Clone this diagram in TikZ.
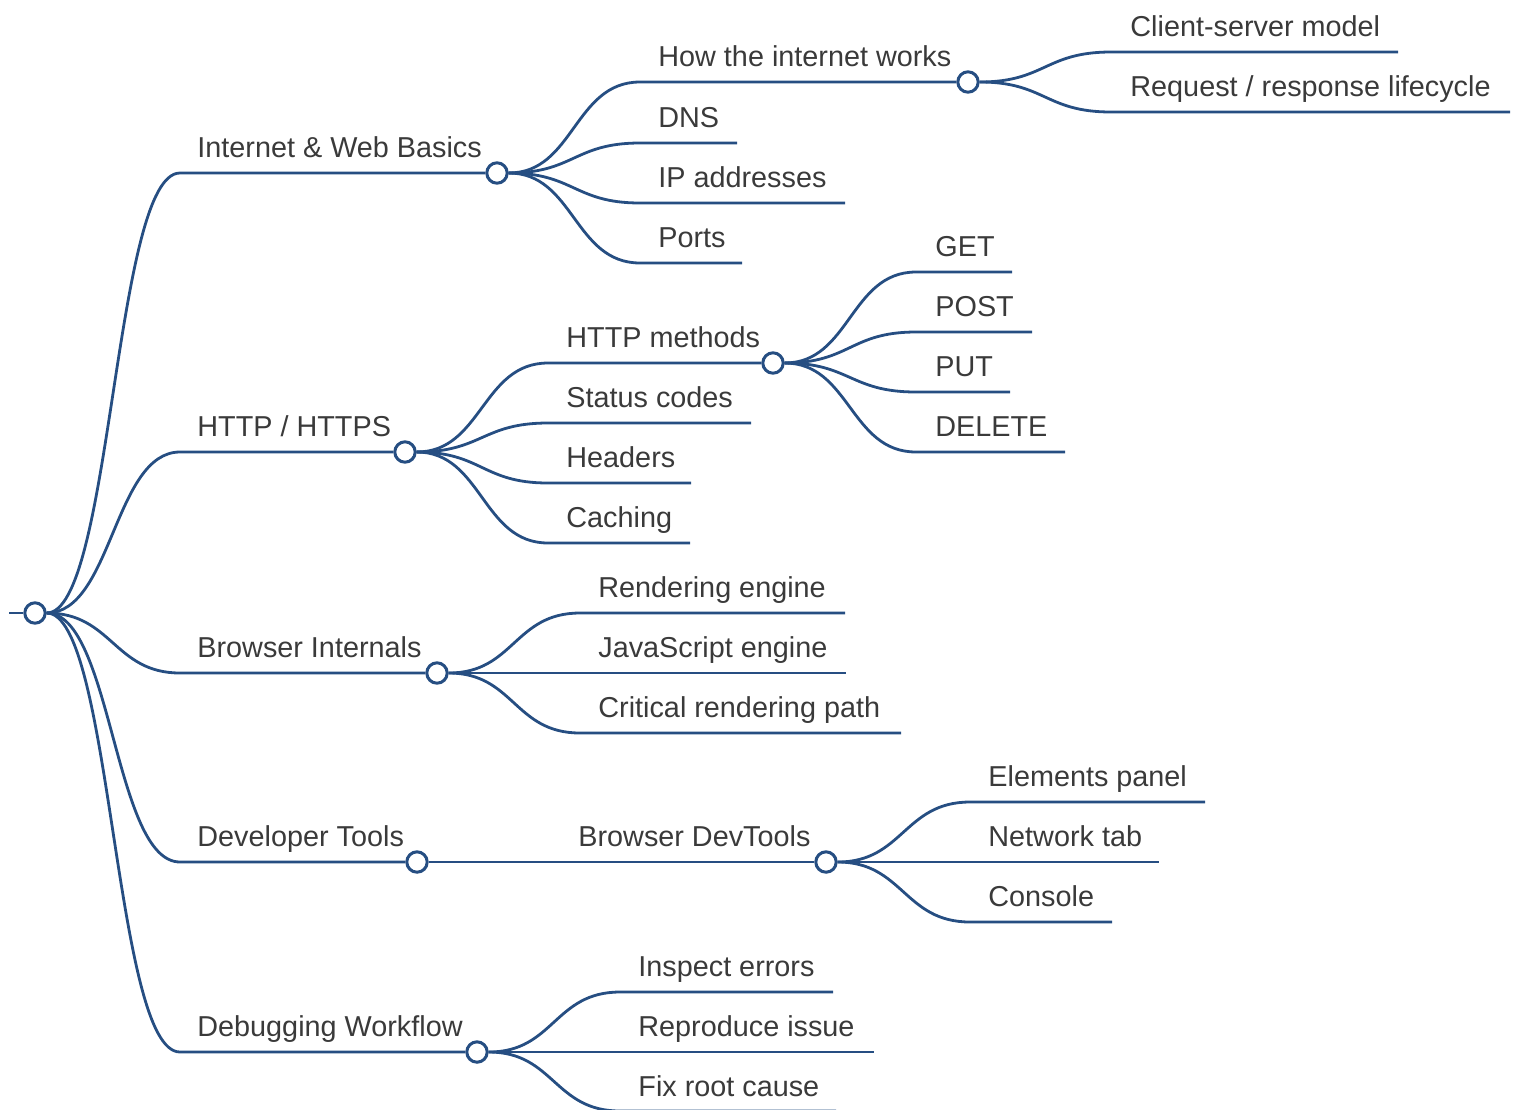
\documentclass[tikz,border=0pt]{standalone}
\usepackage{fontspec}
\setmainfont{Liberation Sans}
\definecolor{edge}{HTML}{264E82}
\definecolor{ink}{HTML}{3A3A3A}
\tikzset{
  link/.style={draw=edge, line width=1.4pt},
  knot/.style={circle, draw=edge, line width=1.5pt, fill=white,
    minimum size=10.2pt, inner sep=0pt},
  lbl/.style={anchor=base west, inner sep=0pt, text=ink,
    font=\fontsize{14.4}{17}\selectfont},
  sbranch/.style={to path={.. controls +(77,0) and +(-66,0) .. (\tikztotarget)}},
}
\begin{document}
\begin{tikzpicture}[x=0.5pt,y=-0.5pt]
\useasboundingbox (0,0) rectangle (1518,1109);

% ---- root ----
\coordinate (in) at (9,613);
\node[knot] (root) at (35,613) {};

% ---- first level ----
\coordinate (web-s) at (180,173);  \node[knot] (web) at (497,173) {};
\node[lbl] (web-t) at (197,157) {Internet \& Web Basics};
\coordinate (http-s) at (180,452); \node[knot] (http) at (405,452) {};
\node[lbl] (http-t) at (197,436) {HTTP / HTTPS};
\coordinate (brw-s) at (180,673);  \node[knot] (brw) at (437,673) {};
\node[lbl] (brw-t) at (197,657) {Browser Internals};
\coordinate (dev-s) at (180,862);  \node[knot] (dev) at (417,862) {};
\node[lbl] (dev-t) at (197,846) {Developer Tools};
\coordinate (dbg-s) at (180,1052); \node[knot] (dbg) at (477,1052) {};
\node[lbl] (dbg-t) at (197,1036) {Debugging Workflow};

% ---- Internet & Web Basics ----
\coordinate (how-s) at (640,82);   \node[knot] (how) at (968,82) {};
\node[lbl] (how-t) at (658,66) {How the internet works};
\coordinate (dns-s) at (640,143);  \coordinate (dns-e) at (737,143);
\node[lbl] (dns-t) at (658,127) {DNS};
\coordinate (ip-s) at (640,203);   \coordinate (ip-e) at (845,203);
\node[lbl] (ip-t) at (658,187) {IP addresses};
\coordinate (port-s) at (640,263); \coordinate (port-e) at (742,263);
\node[lbl] (port-t) at (658,247) {Ports};

\coordinate (cs-s) at (1111,52);   \coordinate (cs-e) at (1398,52);
\node[lbl] (cs-t) at (1130,36) {Client-server model};
\coordinate (rr-s) at (1111,112);  \coordinate (rr-e) at (1510,112);
\node[lbl] (rr-t) at (1130,96) {Request / response lifecycle};

% ---- HTTP / HTTPS ----
\coordinate (meth-s) at (548,363); \node[knot] (meth) at (773,363) {};
\node[lbl] (meth-t) at (566,347) {HTTP methods};
\coordinate (stat-s) at (548,423); \coordinate (stat-e) at (751,423);
\node[lbl] (stat-t) at (566,407) {Status codes};
\coordinate (head-s) at (548,483); \coordinate (head-e) at (691,483);
\node[lbl] (head-t) at (566,467) {Headers};
\coordinate (cach-s) at (548,543); \coordinate (cach-e) at (690,543);
\node[lbl] (cach-t) at (566,527) {Caching};

\coordinate (get-s) at (916,272);  \coordinate (get-e) at (1012,272);
\node[lbl] (get-t) at (935,256) {GET};
\coordinate (post-s) at (916,332); \coordinate (post-e) at (1032,332);
\node[lbl] (post-t) at (935,316) {POST};
\coordinate (put-s) at (916,392);  \coordinate (put-e) at (1010,392);
\node[lbl] (put-t) at (935,376) {PUT};
\coordinate (del-s) at (916,452);  \coordinate (del-e) at (1065,452);
\node[lbl] (del-t) at (935,436) {DELETE};

% ---- Browser Internals ----
\coordinate (rend-s) at (580,613); \coordinate (rend-e) at (845,613);
\node[lbl] (rend-t) at (598,597) {Rendering engine};
\coordinate (js-s) at (580,673);   \coordinate (js-e) at (846,673);
\node[lbl] (js-t) at (598,657) {JavaScript engine};
\coordinate (crp-s) at (580,733);  \coordinate (crp-e) at (901,733);
\node[lbl] (crp-t) at (598,717) {Critical rendering path};

% ---- Developer Tools ----
\node[knot] (dt) at (826,862) {};
\node[lbl] (dt-t) at (578,846) {Browser DevTools};
\coordinate (elem-s) at (970,802); \coordinate (elem-e) at (1205,802);
\node[lbl] (elem-t) at (988,786) {Elements panel};
\coordinate (net-s) at (970,862);  \coordinate (net-e) at (1159,862);
\node[lbl] (net-t) at (988,846) {Network tab};
\coordinate (cons-s) at (970,922); \coordinate (cons-e) at (1112,922);
\node[lbl] (cons-t) at (988,906) {Console};

% ---- Debugging Workflow ----
\coordinate (insp-s) at (620,992);   \coordinate (insp-e) at (833,992);
\node[lbl] (insp-t) at (638,976) {Inspect errors};
\coordinate (repr-s) at (620,1052);  \coordinate (repr-e) at (874,1052);
\node[lbl] (repr-t) at (638,1036) {Reproduce issue};
\coordinate (fix-s) at (620,1111);   \coordinate (fix-e) at (836,1111);
\node[lbl] (fix-t) at (638,1096) {Fix root cause};

% ---- connectors ----
\draw[link] (in) -- (root);
\draw[link] (root) to[sbranch] (web-s) -- (web);
\draw[link] (root) to[sbranch] (http-s) -- (http);
\draw[link] (root) to[sbranch] (brw-s) -- (brw);
\draw[link] (root) to[sbranch] (dev-s) -- (dev);
\draw[link] (root) to[sbranch] (dbg-s) -- (dbg);

\draw[link] (web) to[sbranch] (how-s) -- (how);
\draw[link] (web) to[sbranch] (dns-s) -- (dns-e);
\draw[link] (web) to[sbranch] (ip-s) -- (ip-e);
\draw[link] (web) to[sbranch] (port-s) -- (port-e);
\draw[link] (how) to[sbranch] (cs-s) -- (cs-e);
\draw[link] (how) to[sbranch] (rr-s) -- (rr-e);

\draw[link] (http) to[sbranch] (meth-s) -- (meth);
\draw[link] (http) to[sbranch] (stat-s) -- (stat-e);
\draw[link] (http) to[sbranch] (head-s) -- (head-e);
\draw[link] (http) to[sbranch] (cach-s) -- (cach-e);
\draw[link] (meth) to[sbranch] (get-s) -- (get-e);
\draw[link] (meth) to[sbranch] (post-s) -- (post-e);
\draw[link] (meth) to[sbranch] (put-s) -- (put-e);
\draw[link] (meth) to[sbranch] (del-s) -- (del-e);

\draw[link] (brw) to[sbranch] (rend-s) -- (rend-e);
\draw[link] (brw) -- (js-e);
\draw[link] (brw) to[sbranch] (crp-s) -- (crp-e);

\draw[link] (dev) -- (dt);
\draw[link] (dt) to[sbranch] (elem-s) -- (elem-e);
\draw[link] (dt) -- (net-e);
\draw[link] (dt) to[sbranch] (cons-s) -- (cons-e);

\draw[link] (dbg) to[sbranch] (insp-s) -- (insp-e);
\draw[link] (dbg) -- (repr-e);
\draw[link] (dbg) to[sbranch] (fix-s) -- (fix-e);
\end{tikzpicture}
\end{document}
